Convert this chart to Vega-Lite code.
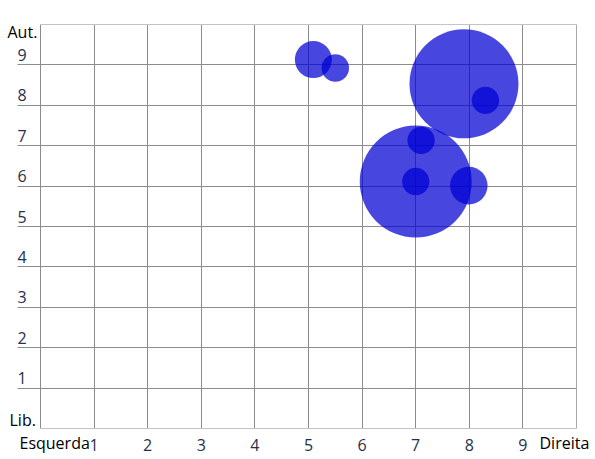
{
  "$schema": "https://vega.github.io/schema/vega-lite/v6.json",
  "width": 536,
  "height": 404,
  "autosize": {"type": "none"},
  "padding": {"left": 40, "top": 24, "right": 19, "bottom": 31},
  "background": "white",
  "config": {"view": {"stroke": null}},
  "data": {
    "values": [
      {"x": 5.10, "y": 9.12, "w": 13.7},
      {"x": 5.51, "y": 8.91, "w": 7.5},
      {"x": 7.91, "y": 8.52, "w": 118.8},
      {"x": 8.31, "y": 8.11, "w": 7.5},
      {"x": 7.11, "y": 7.12, "w": 7.5},
      {"x": 7.01, "y": 6.10, "w": 125.4},
      {"x": 7.01, "y": 6.10, "w": 7.5},
      {"x": 8.00, "y": 6.00, "w": 14.1}
    ]
  },
  "mark": {"type": "circle", "color": "#0000d4", "opacity": 0.72},
  "encoding": {
    "x": {
      "field": "x",
      "type": "quantitative",
      "scale": {"domain": [0, 10], "nice": false, "zero": false},
      "axis": {
        "title": null,
        "values": [0, 1, 2, 3, 4, 5, 6, 7, 8, 9, 10],
        "format": "d",
        "labelExpr": "datum.value == 0 ? 'Esquerda' : datum.value == 10 ? 'Direita' : datum.label",
        "domain": false,
        "ticks": false,
        "grid": true,
        "gridColor": {"condition": {"test": "datum.value == 10", "value": "#a8a8a8"}, "value": "#8c8c8c"},
        "labelFont": "Open Sans",
        "labelFontSize": 16,
        "labelFlush": false,
        "labelOverlap": false,
        "labelBound": false,
        "labelBaseline": "alphabetic",
        "labelColor": {"condition": {"test": "datum.value == 0 || datum.value == 10", "value": "#000000"}, "value": "#26304a"},
        "labelAlign": {"condition": {"test": "datum.value == 0 || datum.value == 10", "value": "left"}, "value": "center"},
        "labelOffset": {"condition": [{"test": "datum.value == 0", "value": -21}, {"test": "datum.value == 10", "value": -37}], "value": 0},
        "labelPadding": {"condition": {"test": "datum.value == 0 || datum.value == 10", "value": 20}, "value": 22}
      }
    },
    "y": {
      "field": "y",
      "type": "quantitative",
      "scale": {"domain": [0, 10], "nice": false, "zero": false},
      "axis": {
        "title": null,
        "values": [0, 1, 2, 3, 4, 5, 6, 7, 8, 9, 10],
        "format": "d",
        "labelExpr": "datum.value == 10 ? 'Aut.' : datum.value == 0 ? 'Lib.' : datum.label",
        "domain": false,
        "ticks": true,
        "tickSize": 23,
        "tickColor": "#8c8c8c",
        "tickOpacity": {"condition": {"test": "datum.value == 0 || datum.value == 10", "value": 0}, "value": 1},
        "grid": true,
        "gridColor": {"condition": {"test": "datum.value == 0 || datum.value == 10", "value": "#c4c4c4"}, "value": "#8c8c8c"},
        "labelFont": "Open Sans",
        "labelFontSize": 16,
        "labelFlush": false,
        "labelOverlap": false,
        "labelBound": false,
        "labelAlign": "left",
        "labelBaseline": "alphabetic",
        "labelColor": {"condition": {"test": "datum.value == 0 || datum.value == 10", "value": "#000000"}, "value": "#26304a"},
        "labelPadding": {"condition": [{"test": "datum.value == 10", "value": 10}, {"test": "datum.value == 0", "value": 8}], "value": 0},
        "labelOffset": {"condition": [{"test": "datum.value == 10", "value": 13}, {"test": "datum.value == 0", "value": -3}], "value": -4}
      }
    },
    "size": {
      "field": "w",
      "type": "quantitative",
      "scale": {"type": "linear", "domain": [0, 150], "range": [0, 15000]},
      "legend": null
    }
  }
}
